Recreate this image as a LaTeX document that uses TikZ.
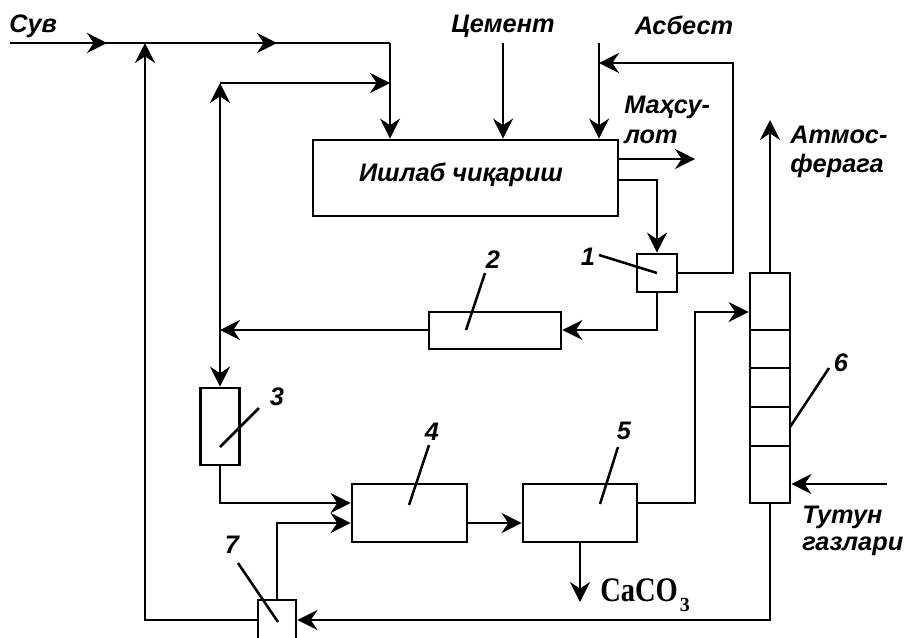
\documentclass[tikz,border=0pt]{standalone}
\usepackage{fontspec}
\usepackage{graphicx}
\setmainfont{Liberation Sans}
\newfontfamily\tms{Liberation Serif}
\usetikzlibrary{arrows.meta}
\tikzset{
  ln/.style={line width=2.1pt, line cap=butt, line join=miter},
  arr/.style={ln, -{Stealth[length=15pt,width=15pt,inset=5pt]}},
  box/.style={draw, line width=2.1pt, inner sep=0pt, fill=white},
  txt/.style={font=\fontsize{19pt}{22pt}\selectfont\bfseries\itshape, inner sep=0pt},
  num/.style={font=\fontsize{19pt}{22pt}\selectfont\bfseries\itshape, inner sep=0pt},
  lead/.style={line width=1.9pt}
}
\begin{document}
\begin{tikzpicture}[x=0.75pt,y=-0.75pt]
\useasboundingbox (0,0) rectangle (906,637);
\clip (0,0) rectangle (906,637);
\fill[white] (0,0) rectangle (906,637);

% boxes
\node[box, minimum width=228.75pt, minimum height=57pt] (M) at (465.5,178) {};
\node[txt] (Mt) at (461,175) {Ишлаб чиқариш};
\node[box, minimum width=30pt, minimum height=28.5pt] (B1) at (657,273) {};
\node[box, minimum width=99pt, minimum height=27.75pt] (B2) at (495,330.5) {};
\node[box, minimum width=29.25pt, minimum height=57.75pt] (B3) at (220,426.5) {};
\node[box, minimum width=86.25pt, minimum height=43.5pt] (B4) at (409.5,513) {};
\node[box, minimum width=85.5pt, minimum height=43.5pt] (B5) at (580,513) {};
\node[box, minimum width=30pt, minimum height=172.5pt] (B6) at (770,388) {};
\node[box, minimum width=28.5pt, minimum height=30pt] (B7) at (277,620) {};
% column dividers
\foreach \yy in {330,368,407,446} \draw[ln] (750,\yy) -- (790,\yy);

% coordinates
\coordinate (sv0) at (10,43);
\coordinate (m1) at (107,43);
\coordinate (j1) at (145,43);
\coordinate (m2) at (277,43);
\coordinate (j2) at (390,43);
\coordinate (j3) at (220,83);
\coordinate (j4) at (390,83);
\coordinate (j5) at (220,330);
\coordinate (c0) at (503,43);
\coordinate (a0) at (599,43);
\coordinate (r1) at (733,63);
\coordinate (r2) at (599,63);
\coordinate (p1) at (695,159);
\coordinate (q) at (657,180);
\coordinate (t1) at (695,312);
\coordinate (cc) at (580,602);
\coordinate (atm) at (770,120);
\coordinate (tt) at (887,484);

% water line
\draw[ln] (sv0) -- (j2);
\draw[arr] (sv0) -- (m1);
\draw[arr] (j1) -- (m2);
\draw[arr] (j2) -- (j2 |- M.north);
\draw[arr] (B7.west) -| (j1);
% recycled water
\draw[arr] (j3) -- (j4);
\draw[arr] (j5) -- (j3);
\draw[arr] (B2.west |- j5) -- (j5);
\draw[arr] (j5) -- (B3.north);
% cement, asbestos
\draw[arr] (c0) -- (c0 |- M.north);
\draw[arr] (a0) -- (a0 |- M.north);
\draw[arr] (B1.east) -| (r1) -- (r2);
% product
\draw[arr] (M.east |- p1) -- (p1);
\draw[arr] (M.east |- q) -| (B1.north);
\draw[arr] (B1.south) |- (B2.east |- j5);
% lower chain
\draw[arr] (B3.south) |- ([yshift=7.5pt]B4.west);
\draw[arr] (B7.north) |- ([yshift=-7.5pt]B4.west);
\draw[arr] ([yshift=-7.5pt]B4.east) -- ([yshift=-7.5pt]B5.west);
\draw[arr] ([yshift=7.5pt]B5.east) -| (t1) -- (B6.west |- t1);
\draw[arr] (B5.south) -- (cc);
\draw[arr] (B6.north) -- (atm);
\draw[arr] (tt) -- (B6.east |- tt);
\draw[arr] (B6.south) |- (B7.east);

% texts
\node[txt, anchor=base west] (tsv) at (9,32) {Сув};
\node[txt, anchor=base] (tcem) at (503,32) {Цемент};
\node[txt, anchor=base] (tasb) at (684,34) {Асбест};
\node[txt, anchor=base west] (tmah1) at (624,113) {Маҳсу-};
\node[txt, anchor=base west] (tmah2) at (624,143) {лот};
\node[txt, anchor=base west] (tatm1) at (790,143) {Атмос-};
\node[txt, anchor=base west] (tatm2) at (790,172) {ферага};
\node[txt, anchor=base west] (ttut1) at (802,523) {Тутун};
\node[txt, anchor=base west] (ttut2) at (802,550) {газлари};
\node[anchor=base west, inner sep=0pt, font=\tms\fontsize{23pt}{26pt}\selectfont\bfseries] (tca) at (600,601) {\scalebox{0.93}[1.12]{CaCO}\kern1.5pt\raisebox{-0.35em}{\tms\bfseries\fontsize{15pt}{15pt}\selectfont 3}};

% number labels and leaders
\node[num] (n1) at (588,257) {1};
\draw[lead] (599,255) -- (657,273);
\node[num] (n2) at (493,260) {2};
\draw[lead] (485,273) -- (466,330);
\node[num] (n3) at (277,397) {3};
\draw[lead] (259,408) -- (220,447);
\node[num] (n4) at (432,432) {4};
\draw[lead] (429,445) -- (409,505);
\node[num] (n5) at (624,431) {5};
\draw[lead] (618,447) -- (600,504);
\node[num] (n6) at (841,363) {6};
\draw[lead] (829,368) -- (790,427);
\node[num] (n7) at (232,545) {7};
\draw[lead] (238,563) -- (278,622);
\end{tikzpicture}
\end{document}
